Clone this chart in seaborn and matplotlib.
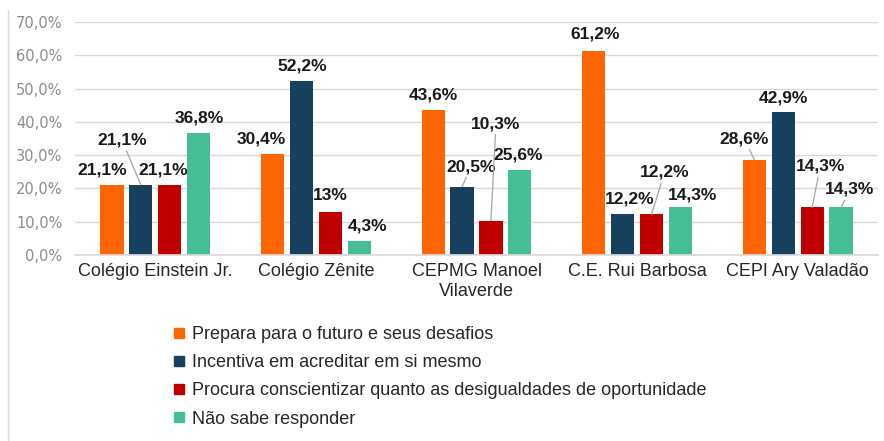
import pandas as pd
import matplotlib.pyplot as plt
import seaborn as sns
from matplotlib.lines import Line2D
from matplotlib.ticker import FuncFormatter

# Dados
escolas = ['Colégio Einstein Jr.', 'Colégio Zênite', 'CEPMG Manoel\nVilaverde',
           'C.E. Rui Barbosa', 'CEPI Ary Valadão']
respostas = ['Prepara para o futuro e seus desafios',
             'Incentiva em acreditar em si mesmo',
             'Procura conscientizar quanto as desigualdades de oportunidade',
             'Não sabe responder']
prepara = [21.1, 30.4, 43.6, 61.2, 28.6]
incentiva = [21.1, 52.2, 20.5, 12.2, 42.9]
procura = [21.1, 13, 10.3, 12.2, 14.3]
nao_sabe = [36.8, 4.3, 25.6, 14.3, 14.3]

cores = ['#FF6600', '#17405F', '#C00000', '#45BE96']

series = [prepara, incentiva, procura, nao_sabe]
df = pd.DataFrame([
    {'Escola': e, 'Resposta': r, 'Valor': v}
    for r, vals in zip(respostas, series)
    for e, v in zip(escolas, vals)
])

# deslocamento dos rótulos (pixels) e se tem linha de chamada
ajustes = {
    (0, 0): (-10, 15, False), (1, 0): (-19, 45, True), (2, 0): (-7, 15, False), (3, 0): (1, 15, False),
    (0, 1): (-11, 15, False), (1, 1): (1, 15, False), (2, 1): (0, 16, False), (3, 1): (8, 15, False),
    (0, 2): (0, 15, False), (1, 2): (9, 20, True), (2, 2): (5, 97, True), (3, 2): (-2, 15, False),
    (0, 3): (1, 17, False), (1, 3): (7, 15, False), (2, 3): (13, 42, True), (3, 3): (12, 12, False),
    (0, 4): (-10, 21, True), (1, 4): (0, 14, False), (2, 4): (8, 41, True), (3, 4): (9, 18, True),
}

sns.set_theme(style="white")
plt.rcParams['font.family'] = ['Liberation Sans', 'DejaVu Sans']

fig = plt.figure(figsize=(8.84, 4.41), dpi=100)
ax = fig.add_axes([75 / 884, 1 - 255 / 441, 803 / 884, 233 / 441])

sns.barplot(data=df, x='Escola', y='Valor', hue='Resposta', hue_order=respostas,
            order=escolas, palette=cores, saturation=1, width=0.72, gap=0.2,
            linewidth=0, ax=ax)

for i, cont in enumerate(ax.containers):
    for j, bar in enumerate(cont):
        v = series[i][j]
        dx, dy, linha = ajustes[(i, j)]
        txt = f"{v:g}".replace('.', ',') + '%'
        x = bar.get_x() + bar.get_width() / 2
        y = bar.get_height()
        props = dict(arrowstyle='-', color='#A6A6A6', lw=0.9, shrinkA=0, shrinkB=0) if linha else None
        ax.annotate(txt, xy=(x, y), xytext=(dx, dy), textcoords='offset pixels',
                    ha='center', va='center', fontsize=12.5, fontweight='bold',
                    color='#1A1A1A', arrowprops=props)

ax.set_ylim(0, 70)
ax.set_yticks(range(0, 71, 10))
ax.yaxis.set_major_formatter(FuncFormatter(lambda v, p: f"{v:.1f}".replace('.', ',') + '%'))
ax.tick_params(axis='y', labelsize=10.5, labelcolor='#8C8C8C', length=0, pad=9)
for lab in ax.get_yticklabels():
    lab.set_family('DejaVu Sans')
ax.tick_params(axis='x', labelsize=13, labelcolor='#262626', length=0, pad=6)
ax.grid(axis='y', color='#D9D9D9', linewidth=1)
ax.set_axisbelow(True)
for s in ['left', 'right', 'top']:
    ax.spines[s].set_visible(False)
ax.spines['bottom'].set_color('#D9D9D9')
ax.set_xlabel('')
ax.set_ylabel('')

ax.get_legend().remove()
quadrados = [Line2D([], [], marker='s', linestyle='', markersize=7, color=c) for c in cores]
fig.legend(quadrados, respostas, loc='upper left', bbox_to_anchor=(174 / 884, 1 - 326 / 441),
           frameon=False, fontsize=13, handlelength=0.6, handletextpad=0.4,
           labelspacing=0.62, borderpad=0, borderaxespad=0, labelcolor='#262626')

fig.add_artist(Line2D([8 / 884, 8 / 884], [0, 1 - 10 / 441], color='#D9D9D9', lw=1))

plt.savefig('out.png', dpi=100)
